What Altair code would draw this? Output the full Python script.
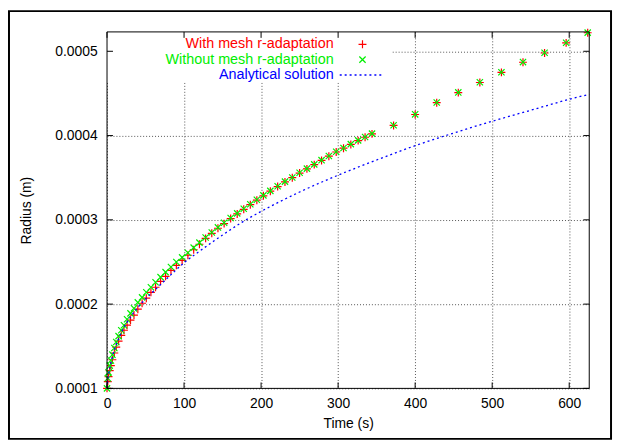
import altair as alt
import pandas as pd

# ---- data ----
t_with = [0, 1, 2, 3.5, 5, 7, 9.5, 12, 15, 18.5, 22, 26, 30.5, 35, 40, 45.5, 51, 57, 63, 69.5,
          76, 83, 90, 97.5, 105, 112.5, 120, 128, 136, 144, 152, 160.5, 169, 177.5, 186, 194.5,
          203, 212, 221.5, 231, 240.5, 250, 259.5, 269, 278.5, 288, 297.5, 307, 316.5, 326, 335, 344,
          372, 400, 428, 456, 484, 512, 540, 568, 596, 624]
r_with = [0.000100, 0.000108, 0.000114, 0.000121, 0.000127, 0.000134, 0.000142, 0.000149, 0.000156, 0.000163,
          0.000169, 0.000175, 0.000181, 0.000187, 0.000194, 0.000201, 0.000207, 0.000214, 0.000220, 0.000227,
          0.000233, 0.000240, 0.000246, 0.000252, 0.000258, 0.0002645, 0.000271, 0.000278, 0.000284, 0.000290,
          0.0002955, 0.0003015, 0.000307, 0.0003125, 0.000318, 0.0003233, 0.0003285, 0.000334, 0.0003395, 0.000345,
          0.000350, 0.0003555, 0.0003605, 0.0003655, 0.0003705, 0.0003755, 0.0003805, 0.000385, 0.0003895, 0.000394,
          0.000398, 0.000402,
          0.000412, 0.000425, 0.000439, 0.000451, 0.000463, 0.000475, 0.000487, 0.000498, 0.000510, 0.000522]

t_without = t_with
r_without = [0.000100, 0.000112, 0.000119, 0.000127, 0.000133, 0.000140, 0.000148, 0.000155, 0.000162, 0.000169,
             0.000175, 0.000182, 0.000189, 0.000195, 0.000202, 0.000208, 0.000214, 0.000220, 0.000226, 0.000232,
             0.000238, 0.000244, 0.000250, 0.0002555, 0.000261, 0.000267, 0.000273, 0.000279, 0.000285, 0.000291,
             0.0002965, 0.0003022, 0.0003077, 0.0003131, 0.0003185, 0.0003238, 0.000329, 0.0003344, 0.0003399, 0.0003453,
             0.0003503, 0.0003558, 0.0003608, 0.0003658, 0.0003708, 0.0003758, 0.0003808, 0.0003853, 0.0003898, 0.0003943,
             0.0003983, 0.0004023,
             0.0004122, 0.0004252, 0.0004392, 0.0004512, 0.0004632, 0.0004752, 0.0004872, 0.0004982, 0.0005102, 0.0005222]

t_analytic = [0, 1, 2, 4, 7, 10, 15, 20, 30, 40, 50, 60, 75, 100, 125, 150, 175, 200, 250, 300,
              350, 400, 450, 500, 550, 600, 626]
r_analytic = [0.000100, 0.000110, 0.000116, 0.000126, 0.000138, 0.000147, 0.000159, 0.000169, 0.000184, 0.000196,
              0.000206, 0.000215, 0.000228, 0.000249, 0.000266, 0.000282, 0.000297, 0.000310, 0.000333, 0.000353,
              0.000371, 0.000388, 0.000403, 0.000417, 0.000430, 0.000443, 0.000449]

x_ticks = [0, 100, 200, 300, 400, 500, 600]
y_ticks = [0.0001, 0.0002, 0.0003, 0.0004, 0.0005]

legend_labels = ["With mesh r-adaptation", "Without mesh r-adaptation", "Analytical solution"]
legend_colors = ["#ff0000", "#00ee00", "#0000ff"]

X_DOMAIN = [0, 626]
Y_DOMAIN = [0.0001, 0.000523]
W, H = 487, 360
FONT = "Liberation Sans"

PLUS = "M-1,0L1,0M0,-1L0,1"
CROSS = "M-1,-1L1,1M-1,1L1,-1"

df_with = pd.DataFrame({"t": t_with, "r": r_with})
df_without = pd.DataFrame({"t": t_without, "r": r_without})
df_an = pd.DataFrame({"t": t_analytic, "r": r_analytic})
df_xt = pd.DataFrame({"t": x_ticks})
df_yt = pd.DataFrame({"r": y_ticks})
one = pd.DataFrame({"k": [0]})

xscale = alt.Scale(domain=X_DOMAIN, nice=False, zero=False)
yscale = alt.Scale(domain=Y_DOMAIN, nice=False, zero=False)

x_axis = alt.Axis(values=x_ticks, format="d", grid=True, gridDash=[1, 2], gridColor="#555555",
                  gridOpacity=1, ticks=False, domain=False, labelPadding=8, labelFontSize=14,
                  labelFlush=False, labelOverlap=False,
                  labelFont=FONT, labelColor="#000", title="Time (s)", titleFont=FONT, titleFontSize=14,
                  titleFontWeight="normal", titleColor="#000", titleX=W / 2, titleY=36,
                  titleBaseline="middle", titleAlign="center")
y_axis = alt.Axis(values=y_ticks, format=".4f", grid=True, gridDash=[1, 2], gridColor="#555555",
                  gridOpacity=1, ticks=False, domain=False, labelPadding=10, labelFontSize=14,
                  labelFlush=False, labelOverlap=False,
                  labelFont=FONT, labelColor="#000", title="Radius (m)", titleFont=FONT, titleFontSize=14,
                  titleFontWeight="normal", titleColor="#000", titleX=-81, titleY=H / 2,
                  titleAngle=270, titleBaseline="middle", titleAlign="center")

X = alt.X("t:Q", scale=xscale, axis=x_axis)
Y = alt.Y("r:Q", scale=yscale, axis=y_axis)

# white background behind the key (hides grid there)
key_bg = alt.Chart(one).mark_rect(color="white").encode(
    x=alt.value(0), x2=alt.value(288), y=alt.value(0), y2=alt.value(51)
)

pts_with = alt.Chart(df_with).mark_point(shape=PLUS, size=64, filled=False, color="#ff0000",
                                         strokeWidth=1.2, opacity=1).encode(x=X, y=Y)
pts_without = alt.Chart(df_without).mark_point(shape=CROSS, size=40, filled=False, color="#00ee00",
                                               strokeWidth=1.2, opacity=1).encode(x=X, y=Y)
line_an = alt.Chart(df_an).mark_line(color="#0000ff", strokeDash=[2, 3], strokeWidth=1.3,
                                     interpolate="monotone").encode(x=X, y=Y)

# inward ticks on all four sides
tick_len = 6
tx_bot = alt.Chart(df_xt).mark_rule(color="#000", strokeWidth=1).encode(
    x=X, y=alt.value(H), y2=alt.value(H - tick_len))
tx_top = alt.Chart(df_xt).mark_rule(color="#000", strokeWidth=1).encode(
    x=X, y=alt.value(0), y2=alt.value(tick_len))
ty_left = alt.Chart(df_yt).mark_rule(color="#000", strokeWidth=1).encode(
    y=Y, x=alt.value(0), x2=alt.value(tick_len))
ty_right = alt.Chart(df_yt).mark_rule(color="#000", strokeWidth=1).encode(
    y=Y, x=alt.value(W), x2=alt.value(W - tick_len))

plot_frame = alt.Chart(one).mark_rect(filled=False, stroke="#000", strokeWidth=1).encode(
    x=alt.value(0), x2=alt.value(W), y=alt.value(0), y2=alt.value(H))
outer_frame = alt.Chart(one).mark_rect(filled=False, stroke="#000", strokeWidth=2).encode(
    x=alt.value(-99), x2=alt.value(509), y=alt.value(-21), y2=alt.value(411))

# key
key_layers = []
key_rows = [12.5, 28, 43.5]
for lab, col, yy in zip(legend_labels, legend_colors, key_rows):
    key_layers.append(
        alt.Chart(pd.DataFrame({"label": [lab]})).mark_text(
            align="right", baseline="middle", font=FONT, fontSize=14.5, color=col
        ).encode(text="label:N", x=alt.value(229), y=alt.value(yy))
    )
key_layers.append(alt.Chart(one).mark_point(shape=PLUS, size=64, filled=False, color=legend_colors[0],
                                            strokeWidth=1.2, opacity=1).encode(
    x=alt.value(258), y=alt.value(key_rows[0])))
key_layers.append(alt.Chart(one).mark_point(shape=CROSS, size=40, filled=False, color=legend_colors[1],
                                            strokeWidth=1.2, opacity=1).encode(
    x=alt.value(258), y=alt.value(key_rows[1])))
key_layers.append(alt.Chart(one).mark_rule(color=legend_colors[2], strokeDash=[2, 3], strokeWidth=1.3).encode(
    x=alt.value(235), x2=alt.value(277), y=alt.value(key_rows[2])))

chart = alt.layer(
    key_bg, pts_with, pts_without, line_an,
    tx_bot, tx_top, ty_left, ty_right, plot_frame, outer_frame, *key_layers
).properties(
    width=W, height=H, autosize="none",
    padding={"left": 100, "top": 22, "right": 25, "bottom": 52},
    background="white",
).configure_view(strokeWidth=0)

chart.save("out.html", embed_options={"renderer": "svg", "actions": False})
